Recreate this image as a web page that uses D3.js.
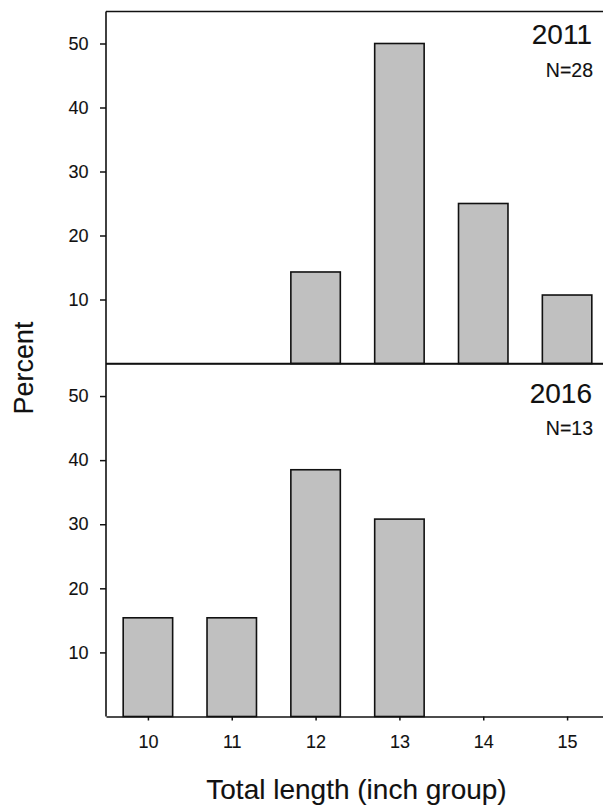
<!DOCTYPE html>
<html>
<head>
<meta charset="utf-8">
<script src="https://cdn.jsdelivr.net/npm/d3@7"></script>
<style>
  html, body { margin: 0; padding: 0; background: #fff; }
  svg { display: block; font-family: "Liberation Sans", Arial, sans-serif; }
  svg text { stroke: #111; stroke-width: 0.12px; }
</style>
</head>
<body>
<svg id="chart" width="603" height="806"></svg>
<script>
// Length groups (inches) shown on the shared x axis
const lengthGroups = [10, 11, 12, 13, 14, 15];

// Percent of fish in each length group, per survey year
const groups2011 = [12, 13, 14, 15];
const percent2011 = [14.3, 50.0, 25.0, 10.7];

const groups2016 = [10, 11, 12, 13];
const percent2016 = [15.4, 15.4, 38.5, 30.8];

const yearLabels = ["2011", "2016"];
const sampleLabels = ["N=28", "N=13"];
const yTicks = [10, 20, 30, 40, 50];

const panels = [
  { year: yearLabels[0], n: sampleLabels[0], groups: groups2011, values: percent2011 },
  { year: yearLabels[1], n: sampleLabels[1], groups: groups2016, values: percent2016 }
];

// Layout
const W = 603, H = 806;
const left = 106, right = 609;
const panelBounds = [[11.5, 363.5], [364, 716.5]];
const yearOffset = [32, 39];
const nOffset = [65, 71];
const barWidthUnits = 0.59;

const svg = d3.select("#chart");
const ink = "#111";

const x = d3.scaleLinear().domain([9.5, 15.5]).range([left, right]);
const barW = x(10 + barWidthUnits) - x(10);

panels.forEach((p, i) => {
  const [top, bottom] = panelBounds[i];
  const y = d3.scaleLinear().domain([0, 55]).range([bottom, top]);
  const g = svg.append("g");

  // bars
  g.selectAll("rect.bar")
    .data(p.groups.map((k, j) => ({ k, v: p.values[j] })))
    .join("rect")
    .attr("class", "bar")
    .attr("x", d => x(d.k) - barW / 2)
    .attr("y", d => y(d.v))
    .attr("width", barW)
    .attr("height", d => y(0) - y(d.v))
    .attr("fill", "#c0c0c0")
    .attr("stroke", ink)
    .attr("stroke-width", 1.6);

  // y axis
  const ya = g.append("g")
    .attr("transform", `translate(${left},0)`)
    .call(d3.axisLeft(y).tickValues(yTicks).tickSize(6).tickPadding(11.5).tickSizeOuter(0));
  ya.select(".domain").remove();
  ya.selectAll("line").attr("stroke", ink).attr("stroke-width", 1.5);
  ya.selectAll("text").attr("font-size", 18).attr("fill", ink);

  // frame: top edge
  g.append("line")
    .attr("x1", left).attr("x2", W)
    .attr("y1", top).attr("y2", top)
    .attr("stroke", ink).attr("stroke-width", 1.6);

  // year and sample size
  g.append("text")
    .attr("x", 592).attr("y", top + yearOffset[i])
    .attr("text-anchor", "end")
    .attr("font-size", 28)
    .attr("fill", ink)
    .text(p.year);
  g.append("text")
    .attr("x", 593).attr("y", top + nOffset[i])
    .attr("text-anchor", "end")
    .attr("font-size", 19.5)
    .attr("fill", ink)
    .text(p.n);

  if (i === 0) {
    // separator / baseline of the upper panel
    g.append("line")
      .attr("x1", left).attr("x2", W)
      .attr("y1", bottom).attr("y2", bottom)
      .attr("stroke", ink).attr("stroke-width", 1.6);
  }
});

// shared left axis line
svg.append("line")
  .attr("x1", left).attr("x2", left)
  .attr("y1", panelBounds[0][0]).attr("y2", panelBounds[1][1])
  .attr("stroke", ink).attr("stroke-width", 1.6);

// bottom x axis
const xa = svg.append("g")
  .attr("transform", `translate(0,${panelBounds[1][1]})`)
  .call(d3.axisBottom(x).tickValues(lengthGroups).tickFormat(d3.format("d"))
    .tickSize(4).tickPadding(15).tickSizeOuter(0));
xa.select(".domain").attr("stroke", ink).attr("stroke-width", 1.6);
xa.selectAll("line").attr("stroke", ink).attr("stroke-width", 1.5);
xa.selectAll("text").attr("font-size", 18).attr("fill", ink);

// axis titles
svg.append("text")
  .attr("x", 356.5).attr("y", 799)
  .attr("text-anchor", "middle")
  .attr("font-size", 28)
  .attr("fill", ink)
  .text("Total length (inch group)");

svg.append("text")
  .attr("transform", "translate(33,368) rotate(-90)")
  .attr("text-anchor", "middle")
  .attr("font-size", 27)
  .attr("fill", ink)
  .text("Percent");
</script>
</body>
</html>
